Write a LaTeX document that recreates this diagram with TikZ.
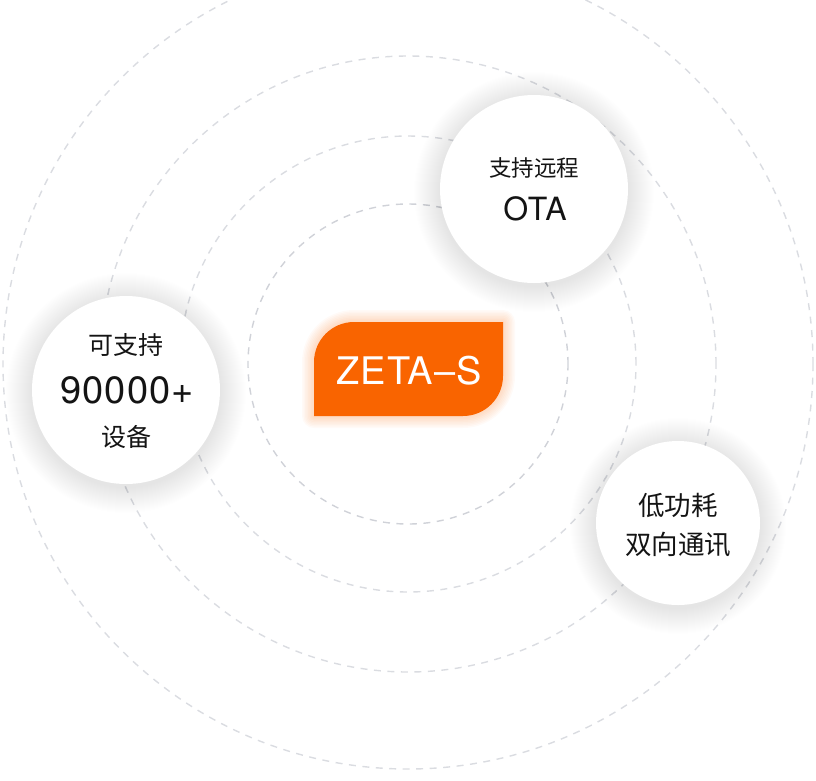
\documentclass[tikz,border=0pt]{standalone}
\usepackage{fontspec}
\newfontfamily\cjk{Noto Sans CJK SC}
\newfontfamily\lat{TeX Gyre Heros}
\definecolor{ringgray}{HTML}{DADCE1}
\definecolor{ringinner}{HTML}{D0D2D8}
\definecolor{zorange}{HTML}{F96400}
\definecolor{txt}{HTML}{141414}
\tikzset{
  ring/.style={draw=ringgray, line width=1.4pt, dash pattern=on 7pt off 6.5pt},
  bubble/.style={circle, fill=white, inner sep=0pt},
  cjktext/.style={text=txt, font=\cjk\fontsize{#1}{#1}\selectfont, inner sep=0pt},
  lattext/.style={text=txt, font=\lat\fontsize{#1}{#1}\selectfont\addfontfeatures{LetterSpace=3}, inner sep=0pt},
}
\begin{document}
\begin{tikzpicture}[x=1pt, y=-1pt]
\useasboundingbox (0,0) rectangle (816,780);
\coordinate (o) at (408,364);
% dashed rings
\draw[ring, draw=ringinner] (o) circle[radius=160pt];
\draw[ring] (o) circle[radius=228pt];
\draw[ring] (o) circle[radius=308pt];
\draw[ring] (o) circle[radius=405pt];
% soft shadows
\foreach \cx/\cy/\r in {534/189/94, 126/390/94, 678/523/82}{
  \foreach \k in {1,...,26}{
    \fill[black, opacity=0.0028] (\cx,\cy+3) circle[radius={\r pt+\k pt}];
  }
}
% bubbles
\node[bubble, minimum size=188pt] (ota) at (534,189) {};
\node[bubble, minimum size=188pt] (dev) at (126,390) {};
\node[bubble, minimum size=164pt] (low) at (678,523) {};
% orange glow and shape
\foreach \w in {3,6,...,24}{
  \draw[zorange, opacity=0.03, line width=\w pt, line join=round]
    (314,416) -- (314,362) arc[start angle=180, end angle=90, radius=40pt]
    -- (503,322) -- (503,376) arc[start angle=0, end angle=-90, radius=40pt] -- cycle;
}
\fill[zorange] (314,416) -- (314,362) arc[start angle=180, end angle=90, radius=40pt]
    -- (503,322) -- (503,376) arc[start angle=0, end angle=-90, radius=40pt] -- cycle;
\node[lattext=38, text=white] (zeta) at (409,371) {ZETA–S};
% texts
\node[cjktext=22.5] (ota1) at (534,168) {支持远程};
\node[lattext=32] (ota2) at (535,209) {OTA};
\node[cjktext=25] (dev1) at (126,345) {可支持};
\node[lattext=38] (dev2) at (127,390) {90000+};
\node[cjktext=25] (dev3) at (126,437) {设备};
\node[cjktext=26.5] (low1) at (678,505) {低功耗};
\node[cjktext=26.5] (low2) at (678,545) {双向通讯};
\end{tikzpicture}
\end{document}
